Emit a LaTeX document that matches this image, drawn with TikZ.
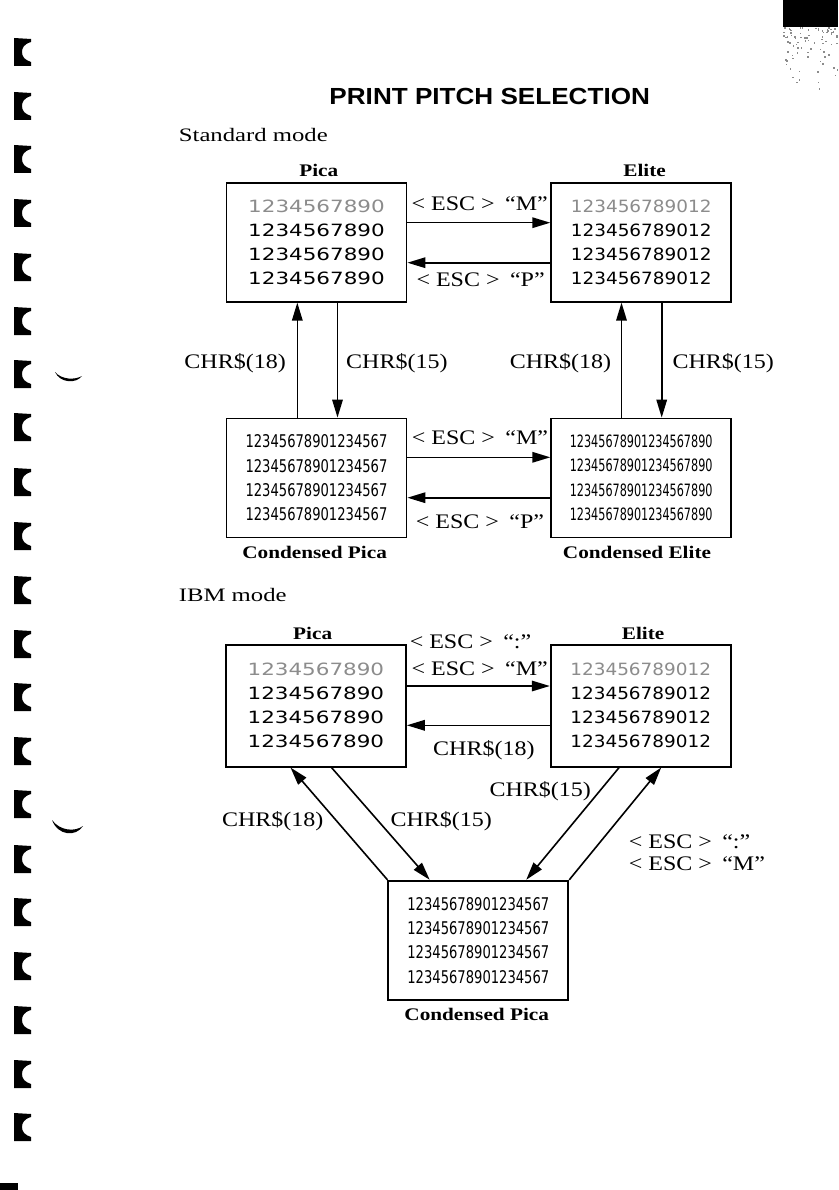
\documentclass[tikz,border=0pt]{standalone}
\usepackage{fontspec}
\setmainfont{Liberation Serif}
\newfontfamily\titlefont[FakeStretch=1.12]{Liberation Sans}
\newfontfamily\modefont[FakeStretch=1.3]{Liberation Serif}
\newfontfamily\lblfont[FakeStretch=1.16]{Liberation Serif}
\newfontfamily\hdfont[FakeStretch=1.2]{Liberation Serif}
\newfontfamily\picafont[FakeStretch=1.27]{DejaVu Sans}
\newfontfamily\elitefont[FakeStretch=1.09]{DejaVu Sans}
\newfontfamily\cpicafont[FakeStretch=0.75]{DejaVu Sans}
\newfontfamily\celitefont[FakeStretch=0.66]{DejaVu Sans}
\usetikzlibrary{arrows.meta}
\tikzset{
  box/.style={draw, line width=1.8pt, minimum width=180pt, minimum height=119pt, inner sep=0pt, align=center},
  picabox/.style={box, font=\picafont\fontsize{16.9}{24}\selectfont},
  elitebox/.style={box, font=\elitefont\fontsize{16.9}{24}\selectfont},
  cpicabox/.style={box, font=\cpicafont\fontsize{17.5}{24.4}\selectfont},
  celitebox/.style={box, font=\celitefont\fontsize{17}{24.4}\selectfont},
  arr/.style={line width=1.6pt, -{Triangle[length=18pt,width=10.5pt]}},
  lbl/.style={inner sep=0pt, anchor=base, font=\lblfont\fontsize{20.7}{24}\selectfont},
  lblw/.style={lbl, anchor=base west},
  hd/.style={inner sep=0pt, anchor=base, font=\hdfont\bfseries\fontsize{17.7}{20}\selectfont},
  modehd/.style={inner sep=0pt, anchor=base west, font=\modefont\fontsize{19}{22}\selectfont},
}
\newcommand{\draftline}[1]{\textcolor{black!45}{#1}}
\newcommand{\esc}[1]{< ESC >\hspace{0.5em}#1}
\begin{document}
\begin{tikzpicture}[x=1pt,y=-1pt]
\useasboundingbox (0,0) rectangle (838,1190);
\fill[white] (0,0) rectangle (838,1190);

% binding marks (scan)
\foreach \t in {38,92,145,199,253,307,360,413,468,522,576,630,683,737,790,845,898,952,1006,1060,1113}{
  \fill (14,\t) -- (31,\t+1) -- (31,\t+4) .. controls (24,\t+6) and (22,\t+10) .. (22,\t+14)
     .. controls (22,\t+19) and (25,\t+22) .. (31,\t+24) -- (31,\t+28) -- (14,\t+28) -- cycle;
}
\fill (55,372) .. controls (60,383) and (76,384) .. (82,376) .. controls (75,380) and (62,380) .. (55,372) -- cycle;
\fill (52,820) .. controls (58,836) and (76,837) .. (83,826) .. controls (75,832) and (60,831) .. (52,820) -- cycle;
\fill (0,1183) rectangle (18,1190);
\fill (782.7,0) rectangle (838,26.7);
\pgfmathsetseed{7}
\foreach \i in {1,...,80}{
  \pgfmathsetmacro\dx{783+54*rnd}
  \pgfmathsetmacro\dy{27+75*rnd*rnd}
  \fill[black!45] (\dx,\dy) rectangle ++(1.5,1.5);
}

% title
\node[inner sep=0pt, anchor=base, font=\titlefont\bfseries\fontsize{23.3}{26}\selectfont] (title) at (489.7,105) {PRINT PITCH SELECTION};

% ---------- Standard mode ----------
\node[modehd] (std) at (178.7,141.7) {Standard mode};
\node[hd] (hp1) at (318.8,176.7) {Pica};
\node[hd] (he1) at (644.6,176.7) {Elite};

\node[picabox] (p1) at (316.5,242.2) {\draftline{1234567890}\\1234567890\\1234567890\\1234567890};
\node[elitebox] (e1) at (641.2,242.2) {\draftline{123456789012}\\123456789012\\123456789012\\123456789012};
\node[cpicabox] (cp1) at (316.5,478) {12345678901234567\\12345678901234567\\12345678901234567\\12345678901234567};
\node[celitebox] (ce1) at (641.2,478) {12345678901234567890\\12345678901234567890\\12345678901234567890\\12345678901234567890};
\node[hd] (hcp1) at (314.6,558.3) {Condensed Pica};
\node[hd] (hce1) at (637,558.3) {Condensed Elite};

\coordinate (ya) at (0,222.7);
\coordinate (yb) at (0,262.7);
\coordinate (yc) at (0,457.3);
\coordinate (yd) at (0,497.7);
\coordinate (x1) at (297.3,0);
\coordinate (x2) at (337.5,0);
\coordinate (x3) at (621.5,0);
\coordinate (x4) at (661.7,0);

\draw[arr] (p1.east |- ya) -- (e1.west |- ya);
\draw[arr] (e1.west |- yb) -- (p1.east |- yb);
\draw[arr] (cp1.east |- yc) -- (ce1.west |- yc);
\draw[arr] (ce1.west |- yd) -- (cp1.east |- yd);
\draw[arr] (cp1.north -| x1) -- (p1.south -| x1);
\draw[arr] (p1.south -| x2) -- (cp1.north -| x2);
\draw[arr] (ce1.north -| x3) -- (e1.south -| x3);
\draw[arr] (e1.south -| x4) -- (ce1.north -| x4);

\node[lbl] (l1) at (479.7,210.7) {\esc{“M”}};
\node[lbl] (l2) at (480.6,286.7) {\esc{“P”}};
\node[lbl] (l3) at (235.1,368.3) {CHR\$(18)};
\node[lbl] (l4) at (396.9,368.3) {CHR\$(15)};
\node[lbl] (l5) at (560.5,368.3) {CHR\$(18)};
\node[lbl] (l6) at (723.2,368.3) {CHR\$(15)};
\node[lbl] (l7) at (480,444) {\esc{“M”}};
\node[lbl] (l8) at (480,528.3) {\esc{“P”}};

% ---------- IBM mode ----------
\node[modehd] (ibm) at (178.7,601.7) {IBM mode};
\node[hd] (hp2) at (312.7,639.3) {Pica};
\node[hd] (he2) at (643.1,639.3) {Elite};

\node[picabox, minimum height=121.7pt] (p2) at (315.9,705.8) {\draftline{1234567890}\\1234567890\\1234567890\\1234567890};
\node[elitebox, minimum height=121.7pt] (e2) at (640.7,705.8) {\draftline{123456789012}\\123456789012\\123456789012\\123456789012};
\node[cpicabox, minimum height=119.3pt] (cp3) at (478.35,940.35) {12345678901234567\\12345678901234567\\12345678901234567\\12345678901234567};
\node[hd] (hcp3) at (476.7,1020) {Condensed Pica};

\coordinate (ye) at (0,686);
\coordinate (yf) at (0,725.3);
\coordinate (xA) at (290.5,0);
\coordinate (xB) at (331.5,0);
\coordinate (xB2) at (429.7,0);
\coordinate (xC) at (619.1,0);
\coordinate (xC2) at (526.2,0);
\coordinate (xD) at (661.2,0);

\draw[arr] (p2.east |- ye) -- (e2.west |- ye);
\draw[arr] (e2.west |- yf) -- (p2.east |- yf);
\draw[arr] (cp3.north west) -- (p2.south -| xA);
\draw[arr] (p2.south -| xB) -- (cp3.north -| xB2);
\draw[arr] (e2.south -| xC) -- (cp3.north -| xC2);
\draw[arr] (cp3.north east) -- (e2.south -| xD);

\node[lbl] (m1) at (470.5,648.3) {\esc{“:”}};
\node[lbl] (m2) at (479.7,675) {\esc{“M”}};
\node[lbl] (m3) at (483.9,755) {CHR\$(18)};
\node[lbl] (m4) at (272.8,826.7) {CHR\$(18)};
\node[lbl] (m5) at (441.2,826.7) {CHR\$(15)};
\node[lbl] (m6) at (540.2,796.7) {CHR\$(15)};
\node[lblw] (m7) at (628.6,848.3) {\esc{“:”}};
\node[lblw] (m8) at (628.6,870) {\esc{“M”}};
\end{tikzpicture}
\end{document}
